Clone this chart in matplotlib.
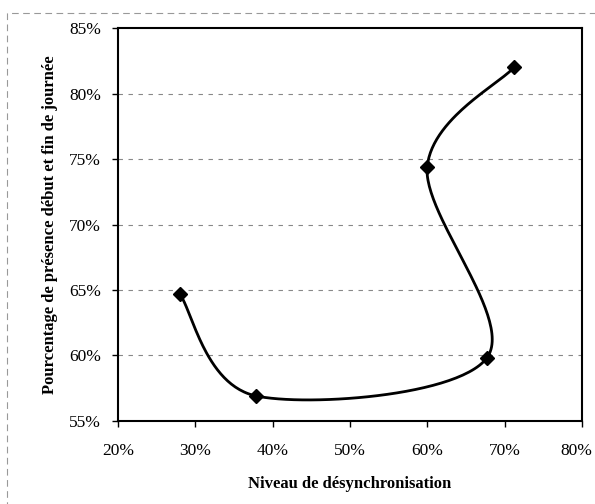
import matplotlib
matplotlib.use("Agg")
import matplotlib.pyplot as plt
from matplotlib.patches import Rectangle
import matplotlib.transforms as mtransforms
import numpy as np

# niveau de desynchronisation (%) et presence debut/fin de journee (%)
desync = [28.0, 37.9, 67.7, 60.0, 71.2]
presence = [64.7, 56.9, 59.8, 74.4, 82.0]

xticks = [20, 30, 40, 50, 60, 70, 80]
yticks = [55, 60, 65, 70, 75, 80, 85]


def smooth(xs, ys, n=60):
    # Excel-like smoothed line: Catmull-Rom as cubic Bezier segments
    p = np.column_stack([xs, ys])
    pts = np.vstack([p[0], p, p[-1]])
    out = []
    t = np.linspace(0, 1, n)[:, None]
    for i in range(1, len(pts) - 2):
        p0, p1, p2, p3 = pts[i - 1], pts[i], pts[i + 1], pts[i + 2]
        c1 = p1 + (p2 - p0) / 6
        c2 = p2 - (p3 - p1) / 6
        seg = ((1 - t) ** 3) * p1 + 3 * ((1 - t) ** 2) * t * c1 + 3 * (1 - t) * t ** 2 * c2 + t ** 3 * p2
        out.append(seg)
    out = np.vstack(out)
    return out[:, 0], out[:, 1]


plt.rcParams['font.family'] = ['Liberation Serif', 'DejaVu Serif']

fig = plt.figure(figsize=(5.95, 5.04), dpi=100)
ax = fig.add_axes([0.198, 0.165, 0.78, 0.779])

sx, sy = smooth(desync, presence)
ax.plot(sx, sy, color='black', lw=2, zorder=3)
ax.plot(desync, presence, 'D', color='black', markersize=7.5, zorder=4)

ax.set_xlim(20, 80)
ax.set_ylim(55, 85)
ax.set_xticks(xticks)
ax.set_yticks(yticks)
ax.set_xticklabels([f"{v}%" for v in xticks])
ax.set_yticklabels([f"{v}%" for v in yticks])
ax.tick_params(direction='out', length=4, width=1, labelsize=12.5, pad=8)
ax.tick_params(axis='x', pad=12)

# keep the last x label inside the picture
last = ax.get_xticklabels()[-1]
last.set_transform(last.get_transform() + mtransforms.ScaledTranslation(-0.06, 0, fig.dpi_scale_trans))

for v in yticks[1:-1]:
    ax.axhline(v, color='#888888', lw=0.8, ls=(0, (4, 5)), zorder=1)

for s in ax.spines.values():
    s.set_linewidth(1.5)
    s.set_color('black')

ax.set_xlabel("Niveau de désynchronisation", fontsize=12, fontweight='bold', labelpad=12)
ax.set_ylabel("Pourcentage de présence début et fin de journée", fontsize=12, fontweight='bold', labelpad=8)

# scanned chart frame
fig.patches.append(Rectangle((7 / 595, -0.1), 1.2, 1 - 13 / 504 + 0.1, transform=fig.transFigure,
                             fill=False, ec='#999999', lw=0.8, ls=(0, (6, 4))))

fig.savefig("out.png", dpi=100)
